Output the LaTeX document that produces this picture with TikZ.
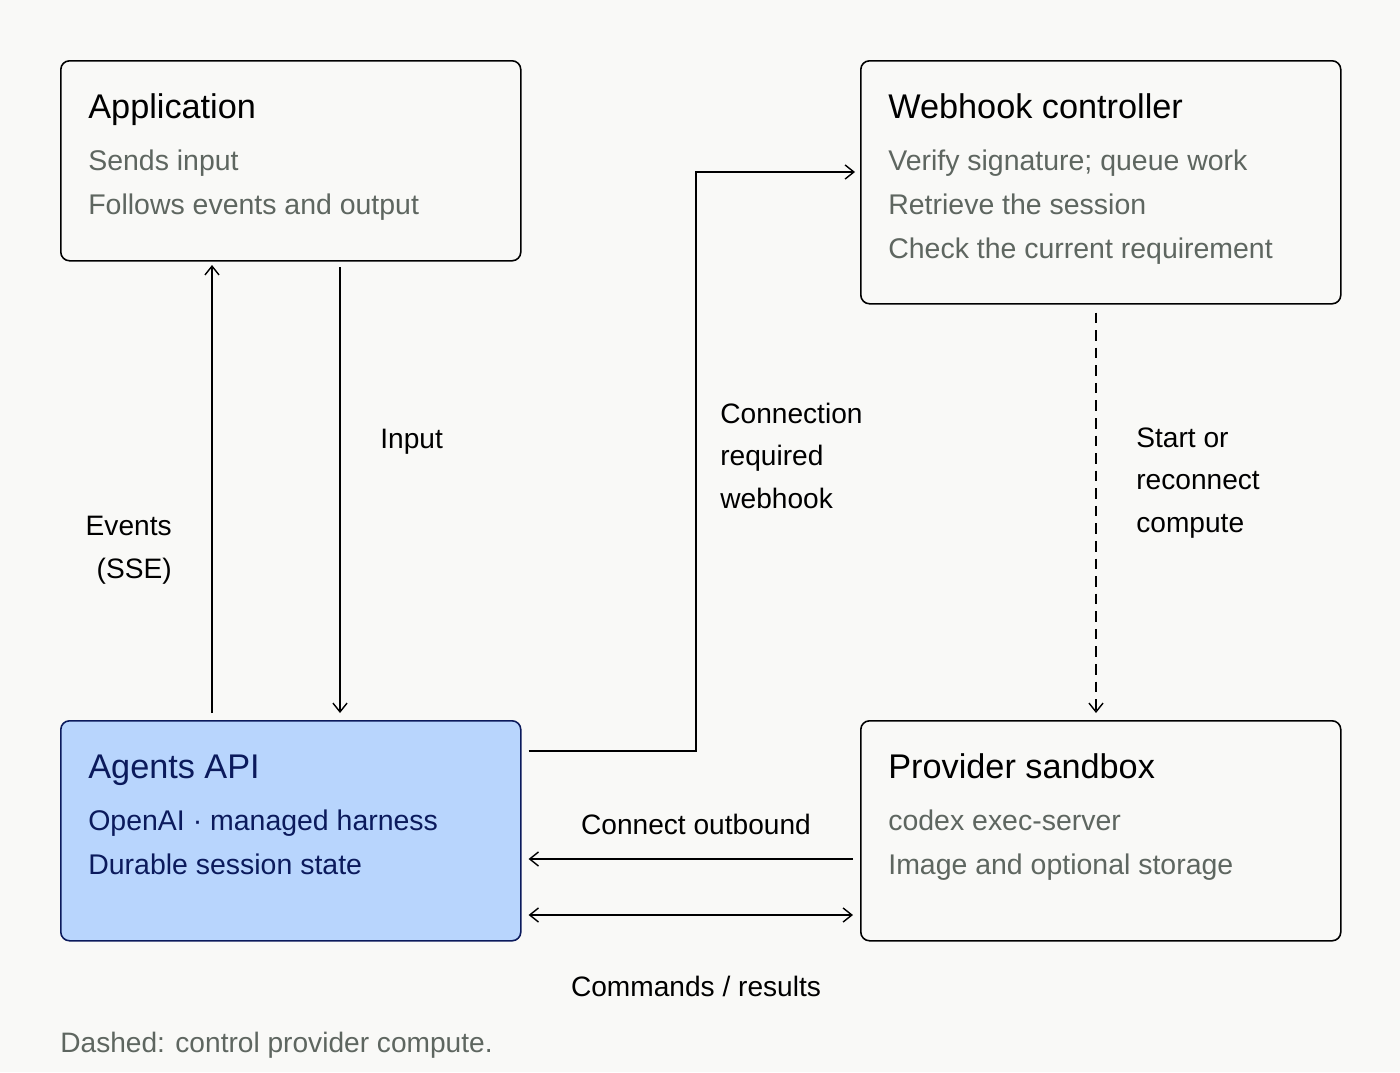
\documentclass[tikz,border=0pt]{standalone}
\usepackage{fontspec}
\setmainfont{Liberation Sans}
\usetikzlibrary{arrows.meta,positioning,calc,backgrounds}

\definecolor{paper}{HTML}{F9F9F7}
\definecolor{subgray}{HTML}{5E6660}
\definecolor{apiblue}{HTML}{B8D5FD}
\definecolor{navy}{HTML}{0B1A5C}

\begin{document}
\begin{tikzpicture}[
    x=0.02cm, y=-0.02cm,
    box/.style={draw, rounded corners=5pt, line width=0.9pt, fill=paper,
                inner sep=0pt},
    api/.style={box, fill=apiblue, draw=navy},
    ttl/.style={anchor=base west, inner sep=0pt, font=\fontsize{19.5}{22}\selectfont},
    sub/.style={anchor=base west, inner sep=0pt, font=\fontsize{16.2}{18}\selectfont, text=subgray},
    lbl/.style={inner sep=0pt, font=\fontsize{16}{18}\selectfont, align=left},
    arr/.style={-{Straight Barb[length=5pt,width=8pt]}, line width=0.8pt},
    darr/.style={{Straight Barb[length=5pt,width=8pt]}-{Straight Barb[length=5pt,width=8pt]}, line width=0.8pt},
  ]

  % ---- Canvas ----
  \fill[paper] (0,0) rectangle (1400,1072);
  \useasboundingbox (0,0) rectangle (1400,1072);

  % ---- Boxes ----
  \node[box, minimum width=460*0.02cm, minimum height=200*0.02cm, anchor=north west]
    (app) at (60,60) {};
  \node[box, minimum width=480*0.02cm, minimum height=243*0.02cm, anchor=north west]
    (hook) at (860,60) {};
  \node[api, minimum width=460*0.02cm, minimum height=220*0.02cm, anchor=north west]
    (agents) at (60,720) {};
  \node[box, minimum width=480*0.02cm, minimum height=220*0.02cm, anchor=north west]
    (sandbox) at (860,720) {};

  % ---- Box texts ----
  \node[ttl] (appT) at (88,118) {Application};
  \node[sub] (appA) at (88,170) {Sends input};
  \node[sub] (appB) at (88,214) {Follows events and output};

  \node[ttl] (hookT) at (888,118) {Webhook controller};
  \node[sub] (hookA) at (888,170) {Verify signature; queue work};
  \node[sub] (hookB) at (888,214) {Retrieve the session};
  \node[sub] (hookC) at (888,258) {Check the current requirement};

  \node[ttl, text=navy] (agentsT) at (88,778) {Agents API};
  \node[sub, text=navy] (agentsA) at (88,830) {OpenAI · managed harness};
  \node[sub, text=navy] (agentsB) at (88,874) {Durable session state};

  \node[ttl] (sandboxT) at (888,778) {Provider sandbox};
  \node[sub] (sandboxA) at (888,830) {codex exec-server};
  \node[sub] (sandboxB) at (888,874) {Image and optional storage};

  % ---- Connectors ----
  \coordinate (evS) at (212,713);
  \coordinate (evE) at (212,265);
  \coordinate (inS) at (340,267);
  \coordinate (inE) at (340,713);
  \draw[arr] (evS) -- (evE);
  \draw[arr] (inS) -- (inE);

  \draw[arr] ([xshift=7*0.02cm]agents.east |- 0,751) -| (696,172)
    -- ([xshift=-5*0.02cm]hook.west |- 0,172);
  \draw[arr, dashed, dash pattern=on 6pt off 4pt]
    ([yshift=-8*0.02cm]hook.south -| 1096,0) -- ([yshift=7*0.02cm]sandbox.north -| 1096,0);
  \draw[arr] ([xshift=-7*0.02cm]sandbox.west |- 0,859) -- ([xshift=7*0.02cm]agents.east |- 0,859);
  \draw[darr] ([xshift=7*0.02cm]agents.east |- 0,915) -- ([xshift=-7*0.02cm]sandbox.west |- 0,915);

  % ---- Labels ----
  \node[lbl, anchor=base west] (inL) at (380,448) {Input};
  \node[lbl, anchor=base east, align=right] (evL) at (172,578) {Events\\[6pt](SSE)};
  \node[lbl, anchor=base west] (whL) at (720,508)
    {Connection\\[6pt]required\\[6pt]webhook};
  \node[lbl, anchor=base west] (scL) at (1136,532)
    {Start or\\[6pt]reconnect\\[6pt]compute};
  \node[lbl, anchor=base] (coL) at (696,834) {Connect outbound};
  \node[lbl, anchor=base] (cmL) at (696,996) {Commands / results};
  \node[lbl, anchor=base west, text=subgray] (note) at (60,1052)
    {Dashed: control provider compute.};

\end{tikzpicture}
\end{document}
